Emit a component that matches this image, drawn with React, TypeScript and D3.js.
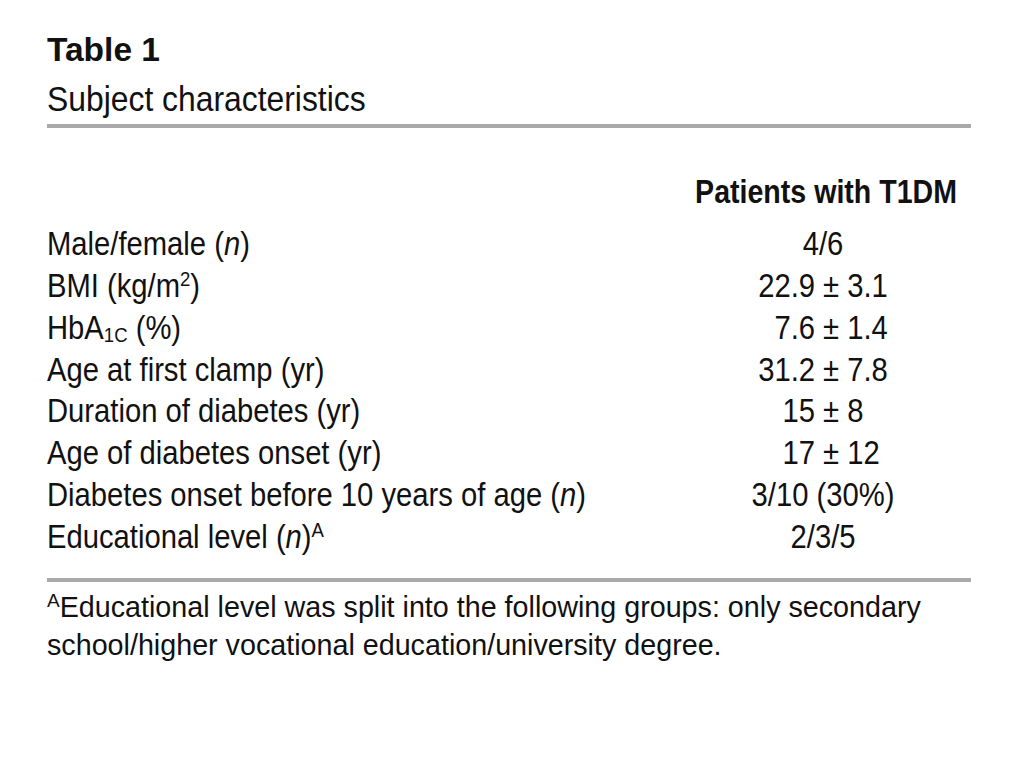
import React from "react";
import * as d3 from "d3";

type Seg = { t: string; s?: "i" | "sup" | "sub" };

const tableTitle = "Table 1";
const tableSubtitle = "Subject characteristics";
const columnHeader = "Patients with T1DM";

const rowLabels: Seg[][] = [
  [{ t: "Male/female (" }, { t: "n", s: "i" }, { t: ")" }],
  [{ t: "BMI (kg/m" }, { t: "2", s: "sup" }, { t: ")" }],
  [{ t: "HbA" }, { t: "1C", s: "sub" }, { t: " (%)" }],
  [{ t: "Age at first clamp (yr)" }],
  [{ t: "Duration of diabetes (yr)" }],
  [{ t: "Age of diabetes onset (yr)" }],
  [{ t: "Diabetes onset before 10 years of age (" }, { t: "n", s: "i" }, { t: ")" }],
  [{ t: "Educational level (" }, { t: "n", s: "i" }, { t: ")" }, { t: "A", s: "sup" }],
];

const rowValues = [
  "4/6",
  "22.9 ± 3.1",
  "\u20077.6 ± 1.4",
  "31.2 ± 7.8",
  "15 ± 8",
  "\u200717 ± 12",
  "3/10 (30%)",
  "2/3/5",
];

const footnoteMark = "A";
const footnoteLines = [
  "Educational level was split into the following groups: only secondary",
  "school/higher vocational education/university degree.",
];

const W = 1018;
const H = 776;
const FONT = "'Liberation Sans', Arial, Helvetica, sans-serif";
const LEFT = 47;
const RIGHT = 971;
const VALUE_X = 823;
const BODY_SIZE = 33;
const CONDENSE = 0.885;
const TEXT = "#111";
const RULE = "#a9a9a9";

function renderSegs(segs: Seg[]) {
  const out: React.ReactNode[] = [];
  let shift = 0;
  segs.forEach((sg, i) => {
    let dy = 0;
    let size: number | undefined;
    let style: string | undefined;
    if (sg.s === "sup") {
      dy = -11 - shift;
      shift = -11;
      size = 21;
    } else if (sg.s === "sub") {
      dy = 3 - shift;
      shift = 3;
      size = 21;
    } else {
      dy = -shift;
      shift = 0;
      if (sg.s === "i") style = "italic";
    }
    out.push(
      <tspan key={i} dy={dy || undefined} fontSize={size} fontStyle={style}>
        {sg.t}
      </tspan>
    );
  });
  return out;
}

export default function App() {
  const y = d3
    .scalePoint<number>()
    .domain(d3.range(rowLabels.length))
    .range([255, 548]);

  return (
    <svg
      width={W}
      height={H}
      viewBox={`0 0 ${W} ${H}`}
      style={{ position: "absolute", left: 0, top: 0, background: "#fff" }}
      fontFamily={FONT}
    >
      <rect x={0} y={0} width={W} height={H} fill="#fff" />
      <text x={LEFT} y={61} fontSize={33.5} fontWeight="bold" fill={TEXT}>
        {tableTitle}
      </text>
      <text
        transform={`translate(${LEFT},111) scale(${CONDENSE},1)`}
        fontSize={36}
        fill={TEXT}
      >
        {tableSubtitle}
      </text>
      <line x1={LEFT} x2={RIGHT} y1={126} y2={126} stroke={RULE} strokeWidth={4} />

      <text
        transform={`translate(957,203) scale(0.866,1)`}
        fontSize={BODY_SIZE}
        fontWeight="bold"
        textAnchor="end"
        fill={TEXT}
      >
        {columnHeader}
      </text>

      {rowLabels.map((segs, i) => (
        <g key={i}>
          <text
            transform={`translate(${LEFT},${y(i)}) scale(${CONDENSE},1)`}
            fontSize={BODY_SIZE}
            fill={TEXT}
          >
            {renderSegs(segs)}
          </text>
          <text
            transform={`translate(${VALUE_X},${y(i)}) scale(${CONDENSE},1)`}
            fontSize={BODY_SIZE}
            textAnchor="middle"
            fill={TEXT}
          >
            {rowValues[i]}
          </text>
        </g>
      ))}

      <line x1={LEFT} x2={RIGHT} y1={580} y2={580} stroke={RULE} strokeWidth={4} />

      {footnoteLines.map((ln, i) => (
        <text key={i} x={LEFT} y={617 + i * 37.5} fontSize={28.7} fill={TEXT}>
          {i === 0 ? (
            <>
              <tspan fontSize={19} dy={-10}>
                {footnoteMark}
              </tspan>
              <tspan dy={10}>{ln}</tspan>
            </>
          ) : (
            ln
          )}
        </text>
      ))}
    </svg>
  );
}
